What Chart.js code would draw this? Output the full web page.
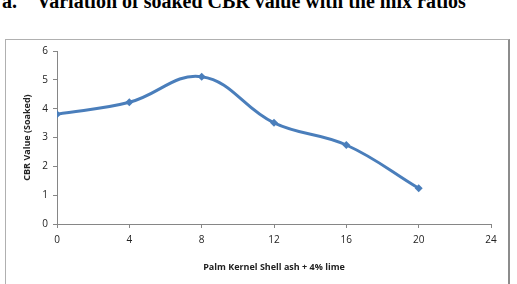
<!DOCTYPE html>
<html><head><meta charset="utf-8">
<script src="https://cdn.jsdelivr.net/npm/chart.js@4"></script>
<style>
html,body{margin:0;padding:0;background:#fff;width:517px;height:284px;overflow:hidden;position:relative}
#title{position:absolute;left:2px;top:-9px;font-family:"Liberation Serif","Times New Roman",serif;font-weight:bold;font-size:20px;line-height:20px;white-space:pre;color:#000}
#frame{position:absolute;left:5px;top:39px;width:502px;height:260px;border:1px solid #b0b0b0;border-right:2px solid #8c8c8c}
#wrap{position:absolute;left:0;top:0;width:517px;height:284px}
</style></head>
<body>
<div id="title">a.    Variation of soaked CBR value with the mix ratios</div>
<div id="frame"></div>
<div id="wrap"><canvas id="c" width="517" height="284"></canvas></div>
<script>
const mixRatios = [0, 4, 8, 12, 16, 20];
const cbrSoaked = [3.81, 4.22, 5.11, 3.51, 2.74, 1.24];
const xTicks = [0, 4, 8, 12, 16, 20, 24];
const yTicks = [0, 1, 2, 3, 4, 5, 6];
const xTitle = 'Palm Kernel Shell ash + 4% lime';
const yTitle = 'CBR Value (Soaked)';

const tickFont = {family: '"Open Sans", "Liberation Sans", sans-serif', size: 10};
const titleFont = {family: '"Open Sans", "Liberation Sans", sans-serif', size: 9, weight: 'bold'};

new Chart(document.getElementById('c'), {
  type: 'line',
  data: {
    datasets: [{
      data: mixRatios.map((x, i) => ({x: x, y: cbrSoaked[i]})),
      borderColor: '#4a7ebb',
      backgroundColor: '#4a7ebb',
      borderWidth: 3,
      tension: 0.4,
      pointStyle: 'rectRot',
      pointRadius: 4,
      pointBorderWidth: 0,
      fill: false
    }]
  },
  options: {
    responsive: false,
    animation: false,
    layout: {padding: {left: 18, right: 26, top: 51, bottom: 9}},
    plugins: {legend: {display: false}, tooltip: {enabled: false}},
    scales: {
      x: {
        type: 'linear', min: 0, max: 24,
        afterBuildTicks: s => { s.ticks = xTicks.map(v => ({value: v})); },
        afterFit: s => { s.height = 51; },
        border: {color: '#868686', width: 1},
        grid: {drawOnChartArea: false, drawTicks: true, tickLength: 4, color: '#868686'},
        ticks: {font: tickFont, color: '#222', padding: 6, maxRotation: 0},
        title: {display: true, text: xTitle, font: titleFont, color: '#222', padding: {top: 4, bottom: 2}}
      },
      y: {
        min: 0, max: 6,
        afterBuildTicks: s => { s.ticks = yTicks.map(v => ({value: v})); },
        afterFit: s => { s.width = 39; },
        border: {color: '#868686', width: 1},
        grid: {drawOnChartArea: false, drawTicks: true, tickLength: 4, color: '#868686'},
        ticks: {font: tickFont, color: '#222', padding: 5},
        title: {display: true, text: yTitle, font: titleFont, color: '#222', padding: {top: 4, bottom: 4}}
      }
    }
  }
});
</script>
</body></html>
